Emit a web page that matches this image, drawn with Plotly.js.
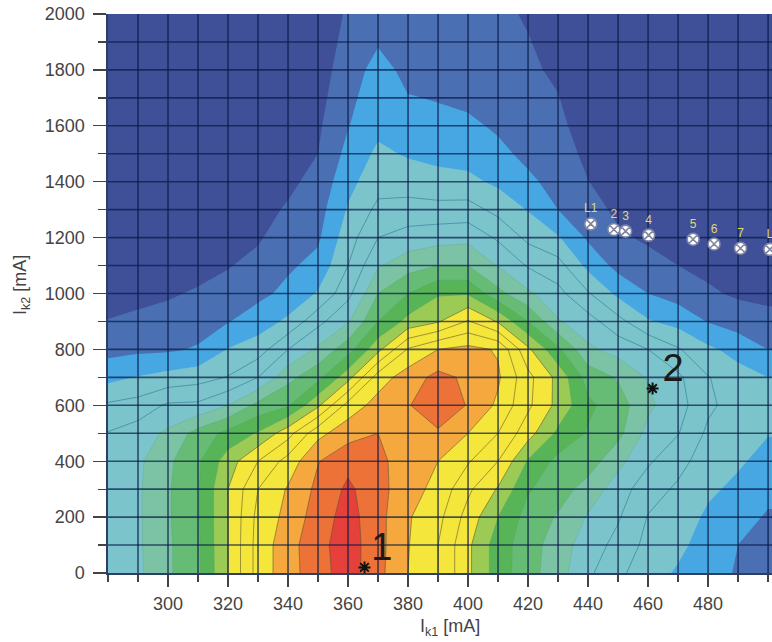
<!DOCTYPE html>
<html><head><meta charset="utf-8">
<script src="https://cdn.plot.ly/plotly-3.0.1.min.js"></script>
<style>html,body{margin:0;padding:0;background:#fff}</style></head>
<body><div id="chart" style="width:772px;height:642px"></div>
<script>
var yRows=[0,100,200,300,400,500,600,700,800,900,1000,1100,1200,1300,1400,1500,1600,1800,2000];
var xCols=[280,290,300,310,320,330,340,350,360,370,380,390,400,410,420,430,440,450,460,470,480,490,500,510];
var c280=[5.4,5.4,5.4,5.4,5.3,5.05,4.15,2.7,1.67,1.03,0.7,0.5,0.4,0.4,0.3,0.3,0.3,0.3,0.3];
var c290=[5.8,5.85,5.85,5.85,5.8,5.5,4.4,3.05,1.8,1.15,0.8,0.6,0.4,0.4,0.3,0.3,0.3,0.3,0.3];
var c300=[6.85,6.85,6.9,6.9,6.8,6.2,5.15,3.35,1.85,1.3,0.9,0.6,0.4,0.4,0.3,0.3,0.3,0.3,0.3];
var c310=[7.8,7.85,7.9,7.9,7.85,7.4,5.2,3.6,2.1,1.55,1.1,0.7,0.5,0.4,0.3,0.3,0.3,0.3,0.3];
var c320=[10,10,10,10,9.5,8.3,6,4.05,3.05,1.95,1.3,0.95,0.7,0.5,0.4,0.3,0.3,0.3,0.3];
var c330=[12.4,12.4,12.3,12,11,9.1,7.3,5,3.5,2.5,1.75,1.25,0.9,0.7,0.5,0.4,0.35,0.3,0.3];
var c340=[13.6,13.6,13.3,13.1,12.4,10.6,7.9,6.7,5,3.2,2.25,1.85,1.45,1.1,0.8,0.6,0.5,0.4,0.4];
var c350=[14.6,14.7,14.5,14.25,13.95,12.7,9.8,7.7,6.2,4.7,3.1,2.3,1.85,1.6,1.3,1,0.85,0.6,0.5];
var c360=[15.5,15.5,15.4,15.2,14.7,13.6,12.4,9.6,7.6,5.9,4.7,4,3.55,3.1,2.7,2.3,1.95,1.45,1.1];
var c370=[14.3,14.35,14.35,14.35,14.2,14,13.4,12.5,9.7,8,7,5.9,5,4.25,3.6,3.2,2.75,2.4,1.4];
var c380=[13,13.05,13.1,13.4,13.6,13.75,13.95,13.5,12.1,9.3,8,6.6,5.4,4.4,3.5,2.9,2.4,1.7,1.3];
var c390=[12,12,12.3,12.7,13,13.9,14.5,14.3,13,9.9,8.9,7,5.6,4.35,3.3,2.75,2.35,1.5,1.2];
var c400=[10.2,10.2,10.6,11.2,12.1,13,13.95,13.8,13.3,11.1,8.9,7,5.7,4.4,3.25,2.6,2.2,1.35,1.1];
var c410=[8.5,8.5,9,9.9,11,12,12.8,13.15,12.9,9.9,7.3,5.95,4.85,3.7,2.8,2.25,1.85,1.25,1.1];
var c420=[7.4,7.45,7.6,8.1,8.9,10.4,11.2,11.3,10.2,8,6.2,4.9,3.75,2.95,2.2,1.75,1.45,1.1,0.95];
var c430=[6.4,6.5,6.9,7.45,7.7,8.8,9.7,9.7,8.2,6.1,5.3,4.4,3.1,2,1.65,1.4,1.15,0.9,0.8];
var c440=[5.2,5.5,5.9,6.6,7.5,7.9,8.2,7.6,6.2,5.4,4.1,2.7,1.85,1.4,1.02,0.8,0.7,0.6,0.5];
var c450=[4.2,4.7,5.1,5.5,6.3,7.3,7.5,6.9,5.6,4.35,2.75,1.7,1.15,0.8,0.6,0.5,0.45,0.4,0.4];
var c460=[3.5,3.7,3.95,4.4,5.15,5.7,6.2,5.9,5,3.1,2,1.35,0.85,0.6,0.45,0.4,0.35,0.3,0.3];
var c470=[2.85,3.3,3.6,3.85,4.3,5.05,5.4,5.2,4.1,2.65,1.6,1,0.7,0.5,0.4,0.35,0.3,0.3,0.3];
var c480=[2.2,2.45,2.8,3.2,3.55,3.8,4.2,4.05,3.2,1.95,1.15,0.75,0.5,0.4,0.35,0.3,0.3,0.3,0.3];
var c490=[1.95,2,2.35,2.75,3.15,3.4,3.55,3.4,2.65,1.55,0.85,0.6,0.45,0.35,0.3,0.3,0.3,0.3,0.3];
var c500=[1.5,1.65,1.9,2.25,2.65,3.05,3.1,3,2,1.3,0.75,0.5,0.4,0.35,0.3,0.3,0.3,0.3,0.3];
var c510=[1.5,1.65,1.9,2.25,2.65,3.05,3.1,3,2,1.3,0.75,0.5,0.4,0.35,0.3,0.3,0.3,0.3,0.3];
var columns=[c280,c290,c300,c310,c320,c330,c340,c350,c360,c370,c380,c390,c400,c410,c420,c430,c440,c450,c460,c470,c480,c490,c500,c510];
var bandColors=['#3f5099','#4a6fb2','#47a7e3','#7cc4cc','#7cc4cc','#7cc4cc','#7cc3a5','#66bb75','#58b557','#9ccb55','#f5e63c','#f5e63c','#f5e63c','#f4a83d','#ec7238','#e5403a'];
var pointX=[440.9,448.6,452.5,460.2,475,482,490.8,500.6];
var pointY=[1249,1229,1223,1209,1194,1177,1162,1158];
var pointLabels=['L1','2','3','4','5','6','7','L'];
var starX=[365.5,461.5];
var starY=[20,660];
var calloutX=[371.3,468.3];
var calloutY=[82,720];
var calloutLabels=['1','2'];
var xTickVals=[300,320,340,360,380,400,420,440,460,480];
var gridX=[290,300,310,320,330,340,350,360,370,380,390,400,410,420,430,440,450,460,470,480,490,500];
var gridY=[100,200,300,400,500,600,700,800,900,1000,1100,1200,1300,1400,1500,1600,1700,1800,1900];

var z=yRows.map(function(_,r){return columns.map(function(c){return c[r];});});
var scale=[];
bandColors.forEach(function(c,i){scale.push([i/16,c]);scale.push([(i+1)/16,c]);});
function lines(start,end,size,color,width){
  return {type:'contour',x:xCols,y:yRows,z:z,showscale:false,hoverinfo:'skip',
    contours:{coloring:'none',start:start,end:end,size:size},
    line:{color:color,width:width,smoothing:0}};
}
var gx=[],gxy=[],gy=[],gyx=[];
gridX.forEach(function(v){gx.push(v,v,null);gxy.push(0,2000,null);});
gridY.forEach(function(v){gy.push(280,501.3,null);gyx.push(v,v,null);});
var gridColor='rgba(8,28,70,0.72)';
var traces=[
 {type:'contour',x:xCols,y:yRows,z:z,zmin:0,zmax:16,autocontour:false,showscale:false,hoverinfo:'skip',
  colorscale:scale,contours:{coloring:'fill',start:1,end:15,size:1,showlines:false},line:{width:0,smoothing:0}},
 lines(4,5,1,'rgba(45,125,145,0.8)',0.8),
 lines(10,15,1,'rgba(95,85,45,0.75)',0.8),
 lines(6,9,1,'rgba(70,150,100,0.35)',0.6),
 {type:'scatter',mode:'lines',x:gx,y:gxy,line:{color:gridColor,width:1.6},hoverinfo:'skip',showlegend:false},
 {type:'scatter',mode:'lines',x:gy,y:gyx,line:{color:gridColor,width:1.6},hoverinfo:'skip',showlegend:false},
 {type:'scatter',mode:'markers+text',x:pointX,y:pointY,text:pointLabels,textposition:'top center',cliponaxis:false,
  textfont:{family:'Liberation Sans',size:12,color:'#e0d870'},
  marker:{symbol:'circle-x',size:12,color:'#ffffff',line:{color:'#7f86a4',width:1.6}},showlegend:false,hoverinfo:'skip'},
 {type:'scatter',mode:'markers',x:starX,y:starY,marker:{symbol:'asterisk-open',size:10,color:'#111',line:{color:'#111',width:2}},showlegend:false,hoverinfo:'skip',cliponaxis:false},
 {type:'scatter',mode:'text',x:calloutX,y:calloutY,text:calloutLabels,textposition:'middle center',
  textfont:{family:'Liberation Sans',size:38,color:'#1a1a1a'},showlegend:false,hoverinfo:'skip',cliponaxis:false}
];
var tickFont={family:'Liberation Sans',size:18,color:'#444444'};
var axisLine='rgba(8,28,70,0.85)';
var layout={
 width:772,height:642,autosize:false,paper_bgcolor:'#fff',plot_bgcolor:'#fff',showlegend:false,
 margin:{l:108,r:0,t:14,b:69,pad:0},
 xaxis:{range:[280,501.3],tickmode:'array',tickvals:xTickVals,ticks:'outside',ticklen:12,tickwidth:1.3,tickcolor:'#444',
   showgrid:false,zeroline:false,showline:true,linecolor:axisLine,linewidth:1.6,tickfont:tickFont,ticklabelstandoff:2,
   minor:{tick0:280,dtick:10,ticks:'outside',ticklen:7,tickwidth:1.3,tickcolor:'#444',showgrid:false}},
 yaxis:{range:[0,2000],tick0:0,dtick:200,tickmode:'linear',ticks:'outside',ticklen:13,tickwidth:1.3,tickcolor:'#444',
   showgrid:false,zeroline:false,showline:true,linecolor:axisLine,linewidth:1.6,tickfont:tickFont,ticklabelstandoff:5,
   minor:{tick0:0,dtick:100,ticks:'outside',ticklen:8,tickwidth:1.3,tickcolor:'#444',showgrid:false}},
 annotations:[
  {xref:'paper',yref:'paper',x:(450-108)/664,y:-(627-573)/559,xanchor:'center',yanchor:'middle',text:'I<sub>k1</sub> [mA]',showarrow:false,font:{family:'Liberation Sans',size:18,color:'#444444'}},
  {xref:'paper',yref:'paper',x:-(108-21)/664,y:(573-285)/559,xanchor:'center',yanchor:'middle',text:'I<sub>k2</sub> [mA]',textangle:-90,showarrow:false,font:{family:'Liberation Sans',size:18,color:'#444444'}}
 ]
};
Plotly.newPlot('chart',traces,layout,{displayModeBar:false,staticPlot:true});
</script></body></html>
